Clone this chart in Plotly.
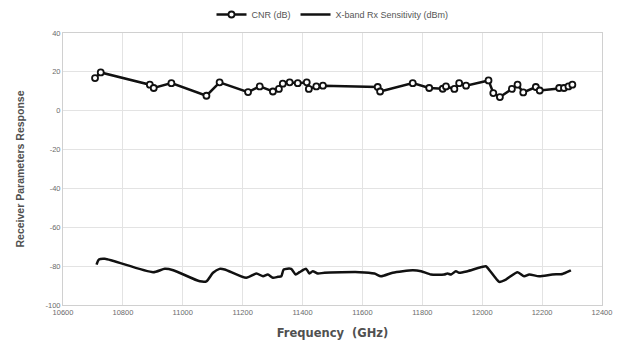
import plotly.graph_objects as go

# Carrier-to-noise ratio measured across the band
cnr_freq = [10707, 10726, 10890, 10903, 10962, 11079, 11123, 11218, 11257, 11301,
            11321, 11334, 11357, 11384, 11414, 11421, 11446, 11468, 11651, 11659,
            11768, 11823, 11868, 11879, 11907, 11923, 11946, 12021, 12037, 12059,
            12099, 12118, 12137, 12179, 12192, 12257, 12273, 12288, 12301]
cnr_db = [16.8, 19.7, 13.4, 11.7, 14.2, 7.7, 14.6, 9.6, 12.5, 9.9,
          11.2, 13.9, 14.6, 14.2, 14.6, 11.2, 12.5, 12.9, 12.2, 9.9,
          14.2, 11.7, 11.3, 12.5, 11.2, 14.2, 12.9, 15.6, 9.1, 7.0,
          11.2, 13.4, 9.4, 12.2, 10.4, 11.7, 11.7, 12.5, 13.4]

# X-band receiver sensitivity across the band
sens_freq = [10712, 10720, 10740, 10901, 10940, 10968, 11057, 11079, 11101, 11123,
             11140, 11212, 11246, 11268, 11284, 11301, 11318, 11329, 11337, 11362,
             11377, 11390, 11412, 11423, 11434, 11451, 11473, 11590, 11640, 11662,
             11701, 11768, 11796, 11829, 11873, 11884, 11896, 11912, 11923, 11951,
             12012, 12018, 12040, 12057, 12079, 12118, 12140, 12157, 12190, 12234,
             12268, 12290, 12296]
sens_dbm = [-79.2, -76.6, -76.2, -83.1, -81.4, -82.1, -87.8, -87.8, -83.4, -81.4,
            -81.7, -86.0, -83.8, -85.2, -84.3, -86.0, -85.5, -85.2, -81.7, -81.4,
            -84.3, -83.1, -81.4, -83.8, -82.6, -83.8, -83.4, -83.1, -83.8, -85.2,
            -83.4, -82.1, -82.6, -84.3, -84.3, -83.8, -84.3, -82.6, -83.4, -82.6,
            -80.1, -80.9, -85.2, -88.1, -86.9, -83.1, -85.2, -84.3, -85.2, -84.3,
            -84.0, -82.6, -82.1]

x_ticks = list(range(10600, 12401, 200))
y_ticks = list(range(-100, 41, 20))

fig = go.Figure()
fig.add_trace(go.Scatter(
    x=cnr_freq, y=cnr_db, name="CNR (dB)", mode="lines+markers",
    line=dict(color="#111111", width=2.5),
    marker=dict(symbol="circle", size=6, color="#ffffff",
                line=dict(color="#111111", width=1.8)),
))
fig.add_trace(go.Scatter(
    x=sens_freq, y=sens_dbm, name="X-band Rx Sensitivity (dBm)", mode="lines",
    line=dict(color="#111111", width=2.5, shape="spline", smoothing=0.6),
))

grid = "#e3e3e3"
fig.update_layout(
    width=624, height=345,
    margin=dict(l=63, r=22, t=33, b=40, autoexpand=False),
    paper_bgcolor="white", plot_bgcolor="white",
    font=dict(family="Liberation Sans, Arial, sans-serif", color="#6b6b6b", size=8),
    legend=dict(orientation="h", x=0.5, xanchor="center", y=1.0, yanchor="top",
                yref="container", font=dict(size=9, color="#555555"),
                tracegroupgap=0),
    showlegend=True,
)
fig.update_xaxes(
    range=[10600, 12400], tickvals=x_ticks, ticktext=[str(v) for v in x_ticks],
    showgrid=True, gridcolor=grid, gridwidth=1, zeroline=False,
    showline=True, linecolor="#d0d0d0", mirror=True, ticks="",
    title=dict(text="<b>Frequency  (GHz)</b>", standoff=12,
               font=dict(size=11.5, color="#505050", family="DejaVu Sans, sans-serif")),
    tickfont=dict(size=7.5, color="#6b6b6b"),
)
fig.update_yaxes(
    range=[-100, 40], tickvals=y_ticks, ticktext=[str(v) for v in y_ticks],
    showgrid=True, gridcolor=grid, gridwidth=1, zeroline=False,
    showline=True, linecolor="#d0d0d0", mirror=True, ticks="",
    title=dict(text="<b>Receiver Parameters Response</b>", standoff=18,
               font=dict(size=10.5, color="#505050", family="Liberation Sans, Arial, sans-serif")),
    tickfont=dict(size=7.5, color="#6b6b6b"),
)

fig.write_html("out.html")
